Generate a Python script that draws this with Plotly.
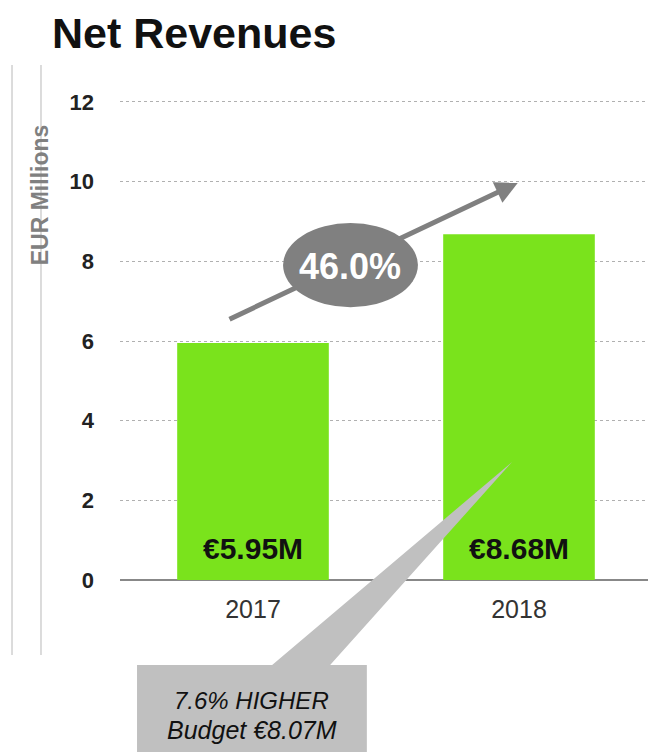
import plotly.graph_objects as go

# ── Data ──────────────────────────────────────────────────────────────────
years = ["2017", "2018"]
revenues = [5.95, 8.68]
bar_labels = ["€5.95M", "€8.68M"]
growth_label = "46.0%"
callout_lines = ["7.6% HIGHER", "Budget €8.07M"]
y_ticks = [0, 2, 4, 6, 8, 10, 12]

GREEN = "#7ae31c"
GRAY = "#808080"
LIGHT = "#c0c0c0"
FONT = "Liberation Sans, Arial, sans-serif"

# page body adds an 8px offset, so the figure is 8px smaller
W, H = 648, 744

fig = go.Figure(go.Bar(
    x=years, y=revenues, width=0.57,
    marker=dict(color=GREEN, line=dict(width=0)),
    hoverinfo="skip", showlegend=False,
))

# bar value labels near the bottom of each bar (category index)
for i, lab in enumerate(bar_labels):
    fig.add_annotation(x=i, y=0.8, xref="x", yref="y", text=lab, showarrow=False,
                       xanchor="center", yanchor="middle",
                       font=dict(size=30, color="#111", family=FONT, weight="bold"))

# growth arrow + ellipse
fig.add_annotation(x=0.996, y=9.97, ax=-0.094, ay=6.53, xref="x", yref="y",
                   axref="x", ayref="y", text="", showarrow=True,
                   arrowhead=2, arrowsize=0.9, arrowwidth=5, arrowcolor=GRAY)
fig.add_shape(type="circle", xref="x", yref="y", x0=0.113, x1=0.620, y0=6.85, y1=8.96,
              fillcolor=GRAY, line=dict(width=0), layer="above")
fig.add_annotation(x=0.366, y=7.88, xref="x", yref="y", text=growth_label,
                   showarrow=False, xanchor="center", yanchor="middle",
                   font=dict(size=36, color="white", family=FONT, weight="bold"))

# budget callout (paper coordinates, below the plot)
fig.add_shape(type="path", xref="paper", yref="paper",
              path="M 0.032 -0.177 L 0.286 -0.177 L 0.737 0.246 L 0.395 -0.177 "
                   "L 0.464 -0.177 L 0.464 -0.40 L 0.032 -0.40 Z",
              fillcolor=LIGHT, line=dict(width=0), layer="above")
fig.add_annotation(xref="paper", yref="paper", x=0.248, y=-0.25,
                   xanchor="center", yanchor="middle",
                   text=f"<i>{callout_lines[0]}</i>", showarrow=False,
                   font=dict(size=24, color="#111", family=FONT))
fig.add_annotation(xref="paper", yref="paper", x=0.248, y=-0.3125,
                   xanchor="center", yanchor="middle",
                   text=f"<i>{callout_lines[1]}</i>", showarrow=False,
                   font=dict(size=25, color="#111", family=FONT))

# left decorative vertical lines
for xp in (-0.203, -0.1485):
    fig.add_shape(type="line", xref="paper", yref="paper", x0=xp, x1=xp,
                  y0=-0.156, y1=1.073, line=dict(color="#c4c4c4", width=1.2))

# y-axis title
fig.add_annotation(xref="paper", yref="paper", x=-0.150, y=0.802,
                   xanchor="center", yanchor="middle",
                   text="EUR Millions", textangle=-90, showarrow=False,
                   font=dict(size=23, color=GRAY, family=FONT, weight="bold"))

fig.update_layout(
    width=W, height=H,
    margin=dict(l=112, r=4, t=92, b=172),
    plot_bgcolor="white", paper_bgcolor="white",
    title=dict(text="Net Revenues", x=44 / W, xanchor="left",
               y=1 - 25 / H, yanchor="middle",
               font=dict(size=43, color="#111", family=FONT, weight="bold")),
    xaxis=dict(range=[-0.5, 1.5], showgrid=False, showline=False, ticks="",
               ticklabelstandoff=12,
               tickfont=dict(size=25, color="#333", family=FONT)),
    yaxis=dict(range=[0, 12.05], tickvals=y_ticks, showgrid=True,
               gridcolor="#b0b0b0", griddash="dot", gridwidth=1,
               zeroline=True, zerolinecolor="#888", zerolinewidth=1.5,
               showline=False, ticks="", ticklabelstandoff=25,
               tickfont=dict(size=22, color="#222", family=FONT, weight="bold")),
    bargap=0.43,
)

fig.write_html("out.html")
